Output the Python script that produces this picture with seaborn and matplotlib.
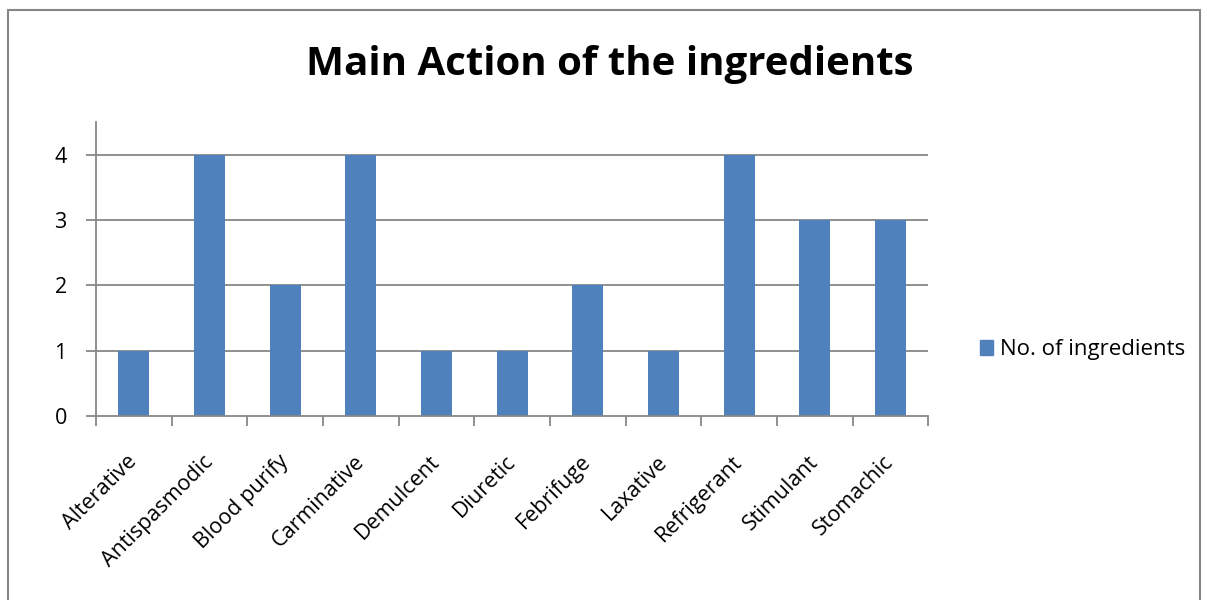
import matplotlib.pyplot as plt
import matplotlib.patches as mpatches
import matplotlib.transforms as mtransforms
import pandas as pd
import seaborn as sns

actions = ["Alterative", "Antispasmodic", "Blood purify", "Carminative", "Demulcent",
           "Diuretic", "Febrifuge", "Laxative", "Refrigerant", "Stimulant", "Stomachic"]
counts = [1, 4, 2, 4, 1, 1, 2, 1, 4, 3, 3]
series_name = "No. of ingredients"

data = pd.DataFrame({"action": actions, "count": counts})

sns.set_style("white")
plt.rcParams["font.family"] = ["Open Sans", "DejaVu Sans"]
plt.rcParams["text.color"] = "black"
plt.rcParams["xtick.color"] = "black"
plt.rcParams["ytick.color"] = "black"

fig = plt.figure(figsize=(12.07, 6), dpi=100)
ax = fig.add_axes([0.0795, 0.3067, 0.6895, 0.49])

blue = "#4F81BD"
grey = "#878787"
sns.barplot(x="action", y="count", data=data, color=blue, width=0.41,
            saturation=1, ax=ax, linewidth=0, edgecolor="none")

ax.set_ylim(0, 4.5)
ax.set_xlim(-0.5, len(actions) - 0.5)
ax.set_yticks([0, 1, 2, 3, 4])
for v in [1, 2, 3, 4]:
    ax.axhline(v, color=grey, lw=1.3, zorder=0)
ax.set_xlabel("")
ax.set_ylabel("")

for side in ["top", "right"]:
    ax.spines[side].set_visible(False)
for side in ["left", "bottom"]:
    ax.spines[side].set_color(grey)
    ax.spines[side].set_linewidth(1.3)

ax.set_xticks([i - 0.5 for i in range(len(actions) + 1)], minor=True)
ax.set_xticks(range(len(actions)))
ax.set_xticklabels(actions, rotation=45, ha="right", rotation_mode="anchor", fontsize=15.5)
ax.tick_params(axis="x", which="major", bottom=False, length=0, pad=16)
ax.tick_params(axis="x", which="minor", bottom=True, length=7, width=1.3, color=grey, direction="out")
ax.tick_params(axis="y", left=True, length=7, width=1.3, color=grey, direction="out",
               labelsize=15.5, pad=14)

# nudge rotated labels left/down like the original
offset = mtransforms.ScaledTranslation(-7 / 100, -13 / 100, fig.dpi_scale_trans)
for lbl in ax.get_xticklabels():
    lbl.set_transform(lbl.get_transform() + offset)

fig.suptitle("Main Action of the ingredients", fontsize=29, fontweight="bold", x=0.505, y=0.925)

handle = mpatches.Patch(color=blue, label=series_name)
fig.legend(handles=[handle], loc="center left", bbox_to_anchor=(0.795, 0.417), frameon=False,
           fontsize=16, handlelength=0.6, handleheight=0.6, handletextpad=0.3)

border = mpatches.Rectangle((8 / 1207, -0.1), 1192 / 1207, 1.1 - 10 / 600, transform=fig.transFigure,
                            fill=False, edgecolor=grey, lw=1.5)
fig.patches.append(border)

fig.savefig("out.png", dpi=100)
